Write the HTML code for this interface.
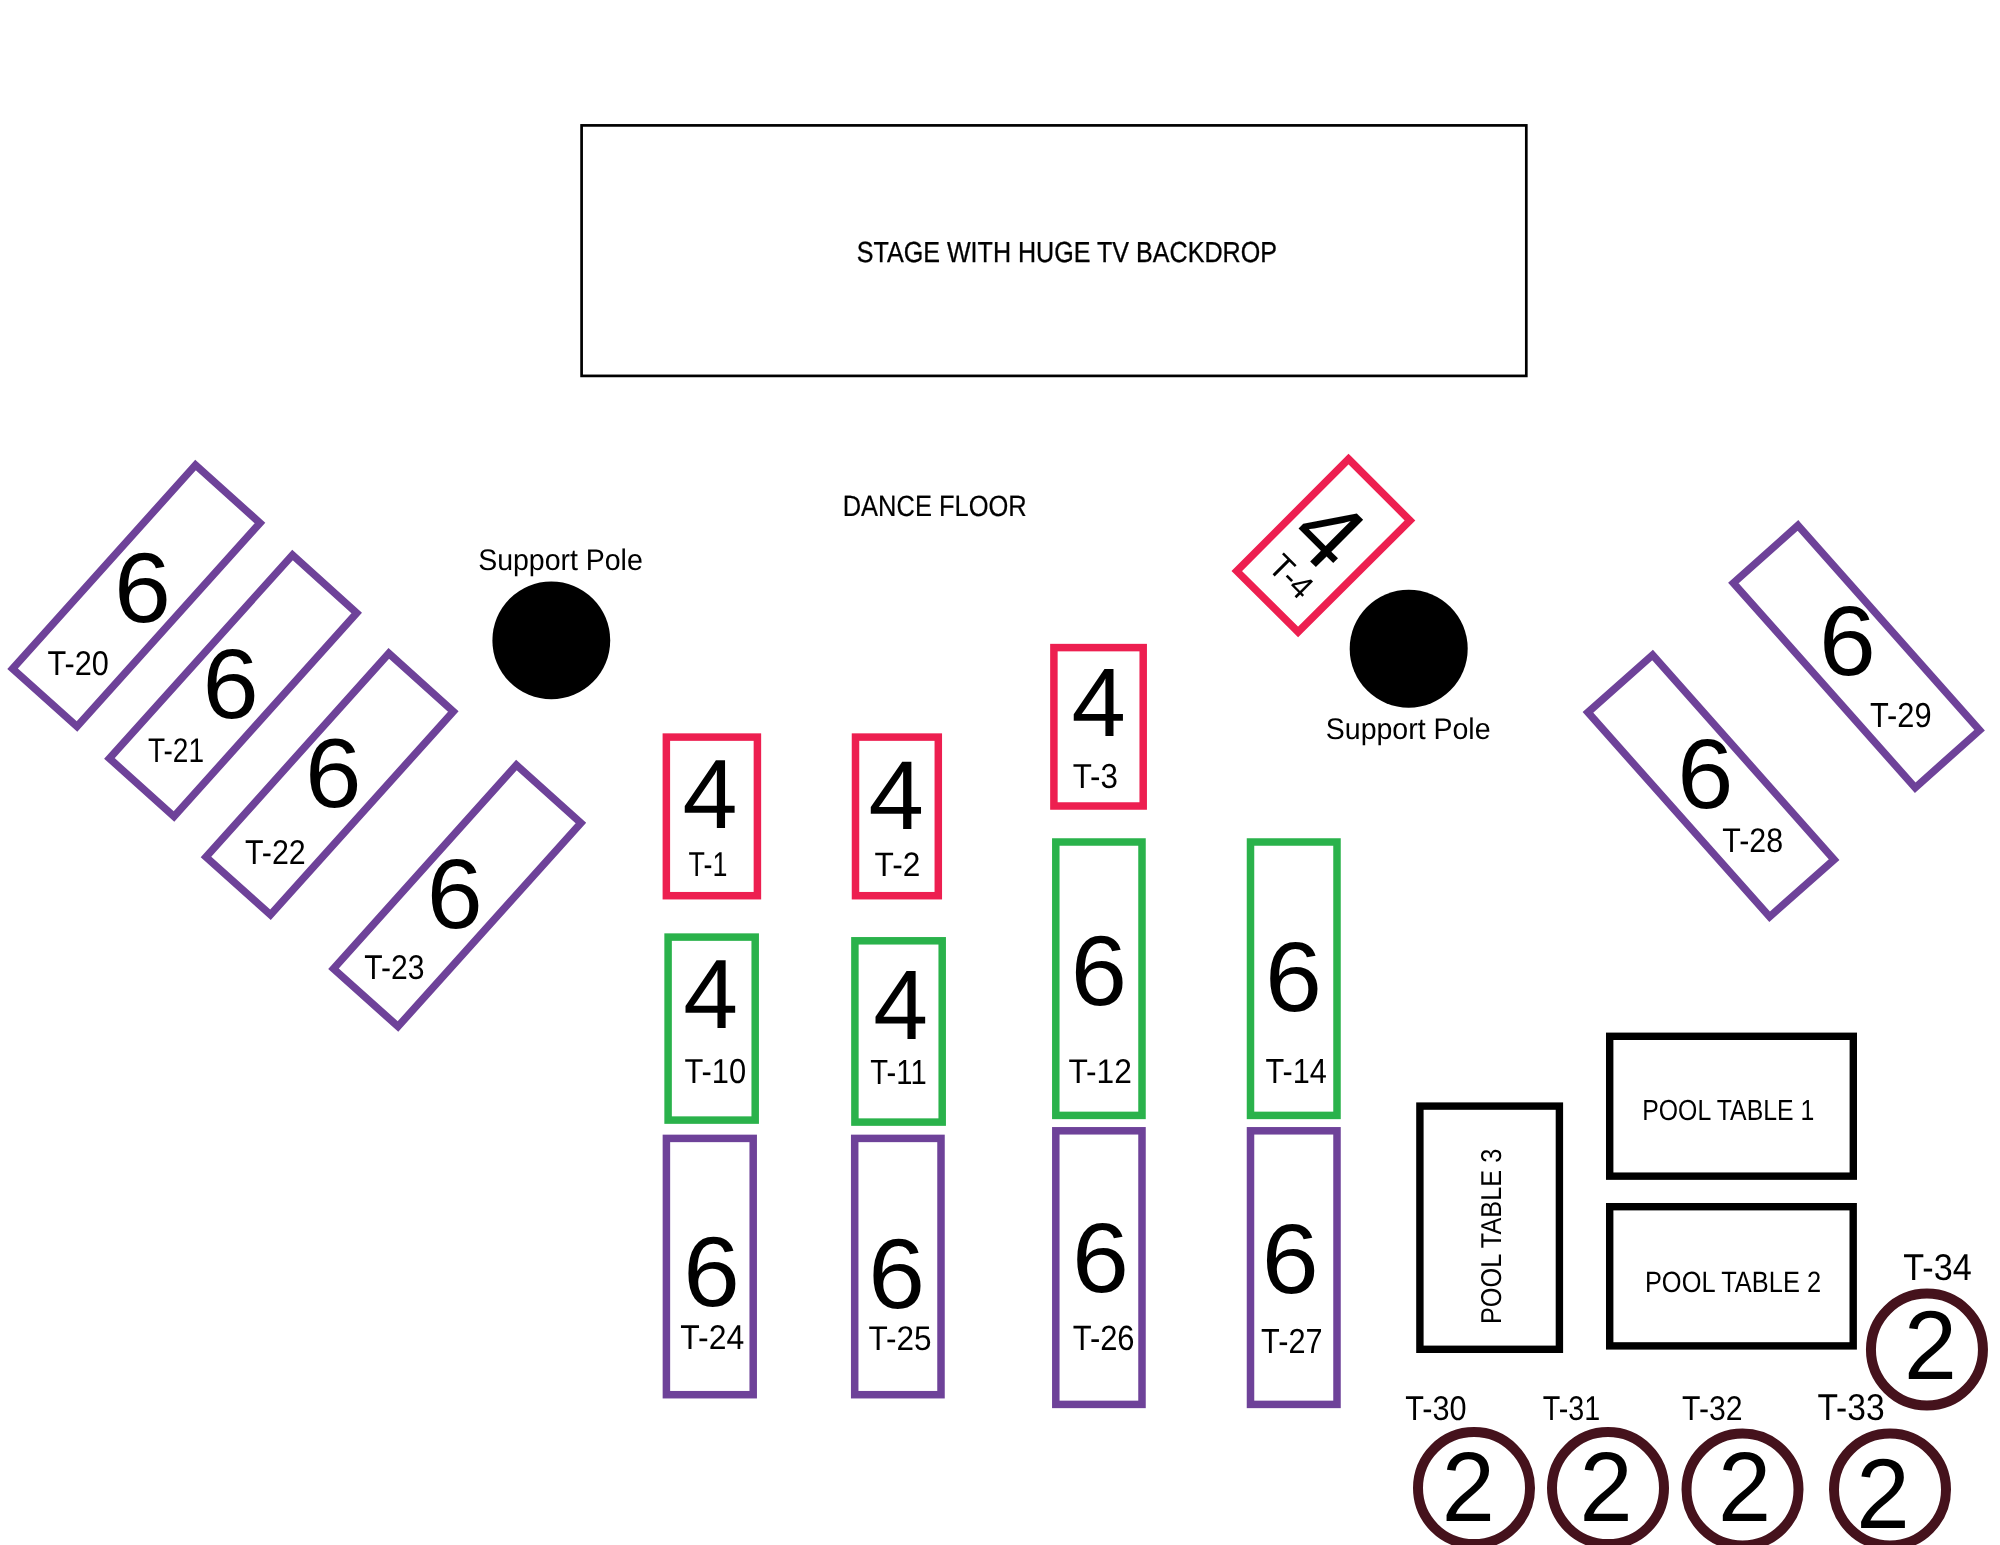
<!DOCTYPE html>
<html><head><meta charset="utf-8"><title>Venue Floor Plan</title>
<style>html,body{margin:0;padding:0;background:#fff;width:2000px;height:1545px;overflow:hidden}svg{display:block;will-change:transform}text{text-rendering:geometricPrecision;font-family:"Liberation Sans",sans-serif;font-size:100px;fill:#000}</style></head>
<body><svg width="2000" height="1545" viewBox="0 0 2000 1545">
<rect width="2000" height="1545" fill="#fff"/>
<rect x="581.6" y="125.4" width="944.70" height="250.50" fill="none" stroke="#000" stroke-width="2.7" stroke-miterlimit="10"/>
<text transform="matrix(0.25101 0 0 0.28972 856.695 262.350)" stroke="#000" stroke-width="1.112">STAGE WITH HUGE TV BACKDROP</text>
<text transform="matrix(0.25472 0 0 0.29403 842.705 516.400)" stroke="#000" stroke-width="0.731">DANCE FLOOR</text>
<text transform="matrix(0.28478 0 0 0.29810 478.133 569.500)">Support Pole</text>
<text transform="matrix(0.28478 0 0 0.29879 1325.833 739.250)">Support Pole</text>
<circle cx="551.3" cy="640.4" r="58.9" fill="#000"/>
<circle cx="1408.7" cy="648.65" r="59" fill="#000"/>
<polygon points="195.5,465 260,523 77,726.5 12.6,668.8" fill="none" stroke="#6E4299" stroke-width="7.5" stroke-miterlimit="10"/>
<polygon points="292.5,555 356.7,613 174,816.5 109.4,758.4" fill="none" stroke="#6E4299" stroke-width="7.5" stroke-miterlimit="10"/>
<polygon points="388.8,653.4 453.3,711.5 270.5,914.7 206,857" fill="none" stroke="#6E4299" stroke-width="7.5" stroke-miterlimit="10"/>
<polygon points="516.4,765 580.9,823 398,1026.5 333.5,968.8" fill="none" stroke="#6E4299" stroke-width="7.5" stroke-miterlimit="10"/>
<polygon points="1798,525.4 1979.6,730.2 1915.2,787.7 1733.4,583" fill="none" stroke="#6E4299" stroke-width="7.5" stroke-miterlimit="10"/>
<polygon points="1652.6,655 1834.15,859.65 1769.6,916.8 1587.9,712.35" fill="none" stroke="#6E4299" stroke-width="7.5" stroke-miterlimit="10"/>
<polygon points="1348.5,459 1410,520.5 1298.1,632 1236.8,571.1" fill="none" stroke="#ED1F50" stroke-width="7.5" stroke-miterlimit="10"/>
<rect x="666.35" y="737.1" width="91.05" height="158.60" fill="none" stroke="#ED1F50" stroke-width="7.5" stroke-miterlimit="10"/>
<rect x="855.5" y="737.1" width="82.80" height="158.60" fill="none" stroke="#ED1F50" stroke-width="7.5" stroke-miterlimit="10"/>
<rect x="1053.9" y="647.6" width="89.30" height="158.40" fill="none" stroke="#ED1F50" stroke-width="7.5" stroke-miterlimit="10"/>
<rect x="668.1" y="937.1" width="87.10" height="183.00" fill="none" stroke="#2AB24B" stroke-width="7.5" stroke-miterlimit="10"/>
<rect x="854.9" y="940.8" width="87.30" height="181.30" fill="none" stroke="#2AB24B" stroke-width="7.5" stroke-miterlimit="10"/>
<rect x="1055.8" y="842" width="86.20" height="273.40" fill="none" stroke="#2AB24B" stroke-width="7.5" stroke-miterlimit="10"/>
<rect x="1250.5" y="842" width="86.50" height="273.40" fill="none" stroke="#2AB24B" stroke-width="7.5" stroke-miterlimit="10"/>
<rect x="666.4" y="1138.4" width="86.80" height="256.30" fill="none" stroke="#6E4299" stroke-width="7.5" stroke-miterlimit="10"/>
<rect x="854.7" y="1138.4" width="86.30" height="256.30" fill="none" stroke="#6E4299" stroke-width="7.5" stroke-miterlimit="10"/>
<rect x="1055.8" y="1130.8" width="86.20" height="273.60" fill="none" stroke="#6E4299" stroke-width="7.5" stroke-miterlimit="10"/>
<rect x="1250.5" y="1130.8" width="86.50" height="273.60" fill="none" stroke="#6E4299" stroke-width="7.5" stroke-miterlimit="10"/>
<rect x="1609.7" y="1036.3" width="243.60" height="139.85" fill="none" stroke="#000" stroke-width="7.4" stroke-miterlimit="10"/>
<rect x="1609.7" y="1206.7" width="243.50" height="139.20" fill="none" stroke="#000" stroke-width="7.4" stroke-miterlimit="10"/>
<rect x="1419.9" y="1106.1" width="139.50" height="243.20" fill="none" stroke="#000" stroke-width="7.4" stroke-miterlimit="10"/>
<text transform="matrix(0.24847 0 0 0.29116 1642.157 1120.100)">POOL TABLE 1</text>
<text transform="matrix(0.25419 0 0 0.29403 1644.910 1291.500)">POOL TABLE 2</text>
<g transform="translate(1491.000 1235.950) rotate(-90)"><text transform="matrix(0.25302 0 0 0.28686 -88.131 10.000)">POOL TABLE 3</text></g>
<circle cx="1474" cy="1488.1" r="56" fill="none" stroke="#45121C" stroke-width="10"/>
<circle cx="1608" cy="1488.1" r="56" fill="none" stroke="#45121C" stroke-width="10"/>
<circle cx="1742.5" cy="1489.5" r="56" fill="none" stroke="#45121C" stroke-width="10"/>
<circle cx="1890" cy="1489.5" r="56" fill="none" stroke="#45121C" stroke-width="10"/>
<circle cx="1926.95" cy="1349.55" r="56" fill="none" stroke="#45121C" stroke-width="10"/>
<text transform="matrix(1.02451 0 0 0.98991 113.953 622.010)">6</text>
<text transform="matrix(1.01149 0 0 0.98849 202.620 717.912)">6</text>
<text transform="matrix(1.01800 0 0 0.98284 304.886 807.317)">6</text>
<text transform="matrix(1.00715 0 0 0.98849 426.842 928.012)">6</text>
<text transform="matrix(1.01149 0 0 0.98991 1070.720 1005.010)">6</text>
<text transform="matrix(1.02451 0 0 0.98849 1265.053 1011.412)">6</text>
<text transform="matrix(1.01800 0 0 0.99132 683.286 1305.909)">6</text>
<text transform="matrix(1.02017 0 0 0.98991 868.175 1307.710)">6</text>
<text transform="matrix(1.02451 0 0 0.98849 1072.053 1291.712)">6</text>
<text transform="matrix(1.02451 0 0 0.98849 1261.753 1292.612)">6</text>
<text transform="matrix(1.00932 0 0 0.98849 1677.331 807.812)">6</text>
<text transform="matrix(1.02234 0 0 0.98849 1819.064 674.912)">6</text>
<text transform="matrix(0.98894 0 0 0.98351 682.512 828.200)">4</text>
<text transform="matrix(0.99688 0 0 0.97915 868.393 829.100)">4</text>
<text transform="matrix(0.97703 0 0 0.97478 1071.539 736.000)">4</text>
<text transform="matrix(0.98497 0 0 0.98642 683.321 1027.600)">4</text>
<text transform="matrix(0.98497 0 0 0.98933 873.321 1039.200)">4</text>
<text transform="matrix(0.95518 0 0 0.98695 1441.687 1520.600)">2</text>
<text transform="matrix(0.95518 0 0 0.98695 1579.487 1520.600)">2</text>
<text transform="matrix(0.95518 0 0 0.98695 1718.087 1520.600)">2</text>
<text transform="matrix(0.96177 0 0 0.99269 1856.253 1528.200)">2</text>
<text transform="matrix(0.95079 0 0 0.97834 1904.009 1379.300)">2</text>
<g transform="translate(1328.900 532.900) rotate(45)"><text transform="matrix(0.97306 0 0 0.97187 -26.751 33.400)">4</text></g>
<g transform="translate(1291.200 576.500) rotate(45)"><text transform="matrix(0.31905 0 0 0.34045 -22.923 11.700)">T-4</text></g>
<text transform="matrix(0.30632 0 0 0.34423 47.506 674.600)">T-20</text>
<text transform="matrix(0.27984 0 0 0.34136 147.966 762.000)">T-21</text>
<text transform="matrix(0.30390 0 0 0.34423 244.911 863.800)">T-22</text>
<text transform="matrix(0.30094 0 0 0.34423 364.318 978.800)">T-23</text>
<text transform="matrix(0.26894 0 0 0.34627 688.490 876.000)">T-1</text>
<text transform="matrix(0.31662 0 0 0.33992 874.582 875.900)">T-2</text>
<text transform="matrix(0.31313 0 0 0.34709 1072.690 788.000)">T-3</text>
<text transform="matrix(0.30838 0 0 0.34711 684.401 1082.800)">T-10</text>
<text transform="matrix(0.29226 0 0 0.34918 870.338 1084.000)">T-11</text>
<text transform="matrix(0.31738 0 0 0.34279 1068.381 1082.900)">T-12</text>
<text transform="matrix(0.30679 0 0 0.34772 1265.405 1082.900)">T-14</text>
<text transform="matrix(0.31962 0 0 0.34423 680.276 1348.700)">T-24</text>
<text transform="matrix(0.31507 0 0 0.34136 868.386 1350.000)">T-25</text>
<text transform="matrix(0.30919 0 0 0.35283 1072.699 1350.300)">T-26</text>
<text transform="matrix(0.30701 0 0 0.34853 1261.104 1352.900)">T-27</text>
<text transform="matrix(0.30395 0 0 0.34136 1722.311 851.800)">T-28</text>
<text transform="matrix(0.30764 0 0 0.34853 1870.003 727.100)">T-29</text>
<text transform="matrix(0.30684 0 0 0.34423 1405.205 1419.900)">T-30</text>
<text transform="matrix(0.28709 0 0 0.34423 1542.749 1419.900)">T-31</text>
<text transform="matrix(0.30182 0 0 0.34423 1682.116 1419.900)">T-32</text>
<text transform="matrix(0.33559 0 0 0.37435 1817.439 1419.900)">T-33</text>
<text transform="matrix(0.34219 0 0 0.37291 1903.324 1280.200)">T-34</text>
</svg></body></html>
